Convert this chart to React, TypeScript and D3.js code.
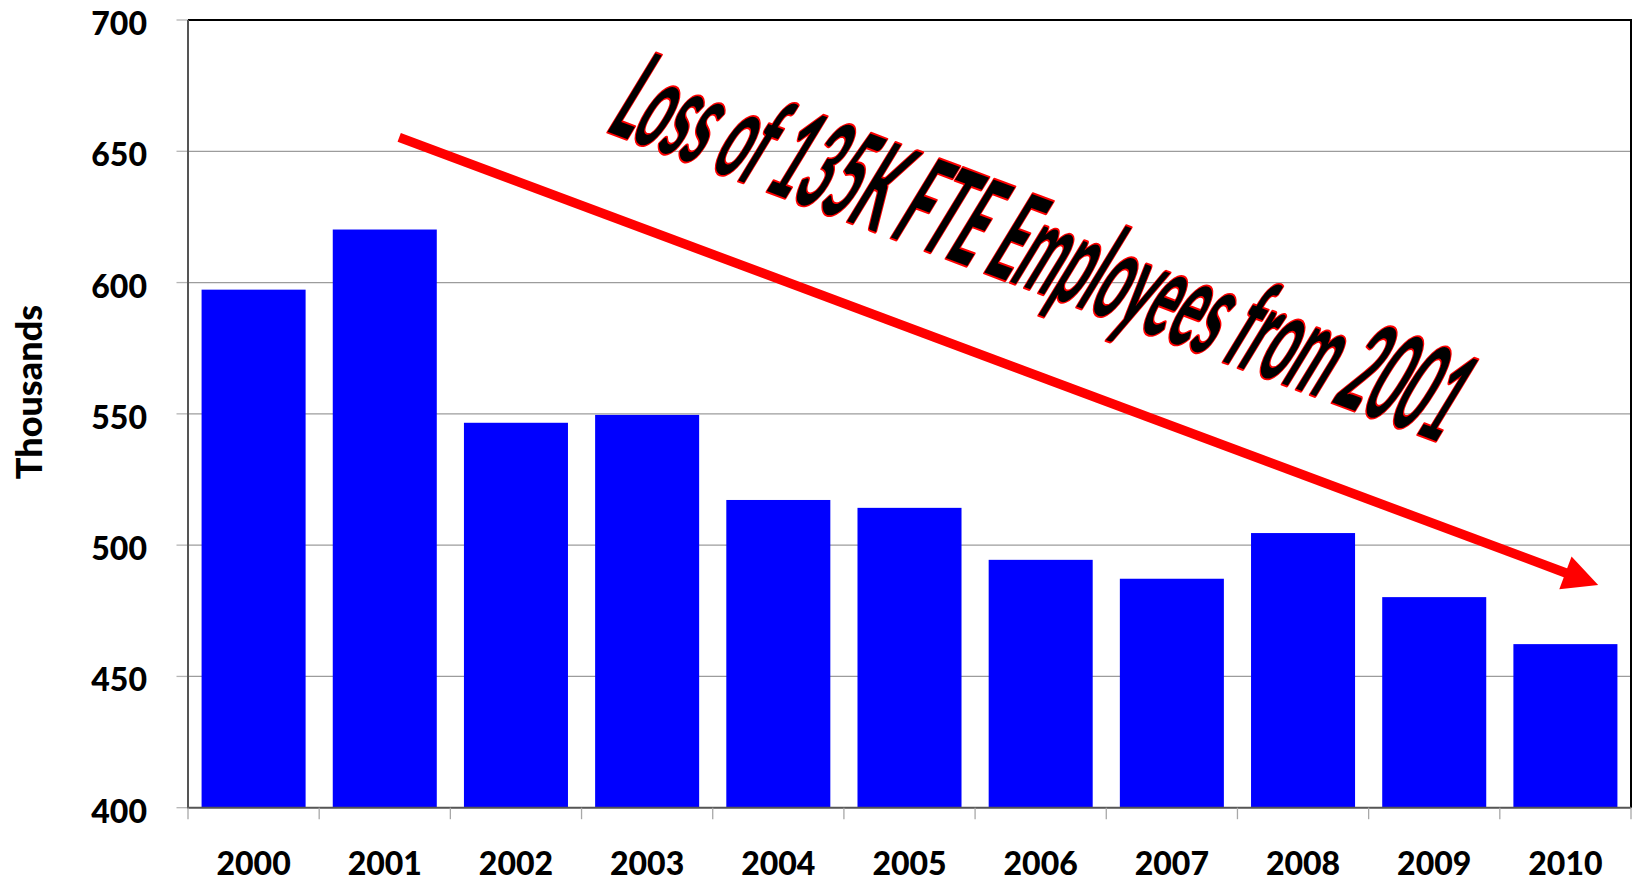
import React from "react";
import { select, scaleBand, scaleLinear } from "d3";

const years = ["2000", "2001", "2002", "2003", "2004", "2005", "2006", "2007", "2008", "2009", "2010"];
const employees = [597.3, 620.2, 546.6, 549.6, 517.2, 514.2, 494.4, 487.2, 504.6, 480.2, 462.3];
const yTicks = [400, 450, 500, 550, 600, 650, 700];
const yLabel = "Thousands";
const annotationText = "Loss of 135K FTE Employees from 2001";
// arrow + text anchor, in (category slot position, value) units
const arrowFrom = { slot: 1.61, value: 655.3 };
const arrowTo = { slot: 10.75, value: 484.8 };
const textAt = { slot: 3.17, value: 658 };

const width = 1633;
const height = 882;
const margin = { top: 20, right: 2, bottom: 74.3, left: 188 };
const font = "Lato, 'Open Sans', sans-serif";

export default function App() {
  const svgRef = React.useRef<SVGSVGElement>(null);

  React.useEffect(() => {
    const svg = select(svgRef.current);
    const x0 = margin.left;
    const x1 = width - margin.right;
    const y0 = height - margin.bottom;
    const y1 = margin.top;

    const x = scaleBand<string>()
      .domain(years)
      .range([x0, x1])
      .paddingInner(0.207)
      .paddingOuter(0.1035);
    const slot = scaleLinear().domain([0, years.length]).range([x0, x1]);
    const y = scaleLinear().domain([400, 700]).range([y0, y1]);
    const gap = (x.step() - x.bandwidth()) / 2;

    // gridlines
    svg
      .append("g")
      .selectAll("line")
      .data(yTicks.filter((t) => t > 400 && t < 700))
      .join("line")
      .attr("x1", x0)
      .attr("x2", x1)
      .attr("y1", (d) => y(d))
      .attr("y2", (d) => y(d))
      .attr("stroke", "#9c9c9c")
      .attr("stroke-width", 1.3);

    // y tick marks + labels
    const yt = svg.append("g");
    yt.selectAll("line")
      .data(yTicks)
      .join("line")
      .attr("x1", x0 - 11.5)
      .attr("x2", x0)
      .attr("y1", (d) => y(d))
      .attr("y2", (d) => y(d))
      .attr("stroke", "#b5b5b5")
      .attr("stroke-width", 1.3);
    yt.selectAll("text")
      .data(yTicks)
      .join("text")
      .attr("x", 147)
      .attr("y", (d) => y(d) + 2.5)
      .attr("text-anchor", "end")
      .attr("dominant-baseline", "central")
      .style("font-family", font)
      .style("font-weight", 900)
      .style("font-size", "32px")
      .text((d) => d);

    // bars
    svg
      .append("g")
      .selectAll("rect")
      .data(years)
      .join("rect")
      .attr("x", (d) => x(d) as number)
      .attr("y", (d, i) => y(employees[i]))
      .attr("width", x.bandwidth())
      .attr("height", (d, i) => y0 - y(employees[i]))
      .attr("fill", "#0000ff");

    // plot border + axes
    svg
      .append("path")
      .attr("d", `M${x0},${y1}H${x1}V${y0}`)
      .attr("fill", "none")
      .attr("stroke", "#000")
      .attr("stroke-width", 2);
    svg
      .append("path")
      .attr("d", `M${x0},${y1}V${y0}H${x1}`)
      .attr("fill", "none")
      .attr("stroke", "#555")
      .attr("stroke-width", 2);

    // x tick marks at category boundaries
    const bounds = years.map((d) => (x(d) as number) - gap).concat([x1]);
    svg
      .append("g")
      .selectAll("line")
      .data(bounds)
      .join("line")
      .attr("x1", (d) => d)
      .attr("x2", (d) => d)
      .attr("y1", y0)
      .attr("y2", y0 + 11.5)
      .attr("stroke", "#a8a8a8")
      .attr("stroke-width", 1.3);

    svg
      .append("g")
      .selectAll("text")
      .data(years)
      .join("text")
      .attr("x", (d) => (x(d) as number) + x.bandwidth() / 2)
      .attr("y", 862)
      .attr("text-anchor", "middle")
      .attr("dominant-baseline", "central")
      .style("font-family", font)
      .style("font-weight", 900)
      .style("font-size", "32px")
      .text((d) => d);

    svg
      .append("text")
      .attr("transform", "translate(28,392) rotate(-90)")
      .attr("text-anchor", "middle")
      .attr("dominant-baseline", "central")
      .style("font-family", font)
      .style("font-weight", 900)
      .style("font-size", "36px")
      .text(yLabel);

    // red arrow
    const ax0 = slot(arrowFrom.slot);
    const ay0 = y(arrowFrom.value);
    const ax1 = slot(arrowTo.slot);
    const ay1 = y(arrowTo.value);
    const len = Math.hypot(ax1 - ax0, ay1 - ay0);
    const ux = (ax1 - ax0) / len;
    const uy = (ay1 - ay0) / len;
    const headL = 35;
    const headW = 17.5;
    const bx = ax1 - ux * headL;
    const by = ay1 - uy * headL;
    svg
      .append("line")
      .attr("x1", ax0)
      .attr("y1", ay0)
      .attr("x2", bx + ux * 2)
      .attr("y2", by + uy * 2)
      .attr("stroke", "#ff0000")
      .attr("stroke-width", 9.4);
    svg
      .append("path")
      .attr(
        "d",
        `M${ax1},${ay1}L${bx - uy * headW},${by + ux * headW}L${bx + uy * headW},${by - ux * headW}Z`
      )
      .attr("fill", "#ff0000");

    // word-art annotation: baseline along the arrow, letters slanted and squeezed
    const tx = slot(textAt.slot);
    const ty = y(textAt.value);
    const targetLen = 892;
    const ang = Math.atan2(uy, ux);
    const label = svg
      .append("text")
      .attr("x", 0)
      .attr("y", 0)
      .style("font-family", font)
      .style("font-weight", 700)
      .style("font-size", "127px")
      .attr("fill", "#000")
      .attr("stroke", "#ff0000")
      .attr("stroke-width", 3)
      .attr("stroke-linejoin", "round")
      .attr("paint-order", "stroke")
      .attr("vector-effect", "non-scaling-stroke")
      .text(annotationText);
    const natural = (label.node() as SVGTextElement).getComputedTextLength() || 2200;
    const k = targetLen / natural;
    const a = Math.cos(ang) * k;
    const b = Math.sin(ang) * k;
    const c = -0.52;
    const d = 0.855;
    label.attr("transform", `matrix(${a},${b},${c},${d},${tx},${ty})`);

    return () => {
      svg.selectAll("*").remove();
    };
  }, []);

  return (
    <svg
      ref={svgRef}
      width={width}
      height={height}
      style={{ position: "absolute", left: 0, top: 0, background: "#fff" }}
    />
  );
}
